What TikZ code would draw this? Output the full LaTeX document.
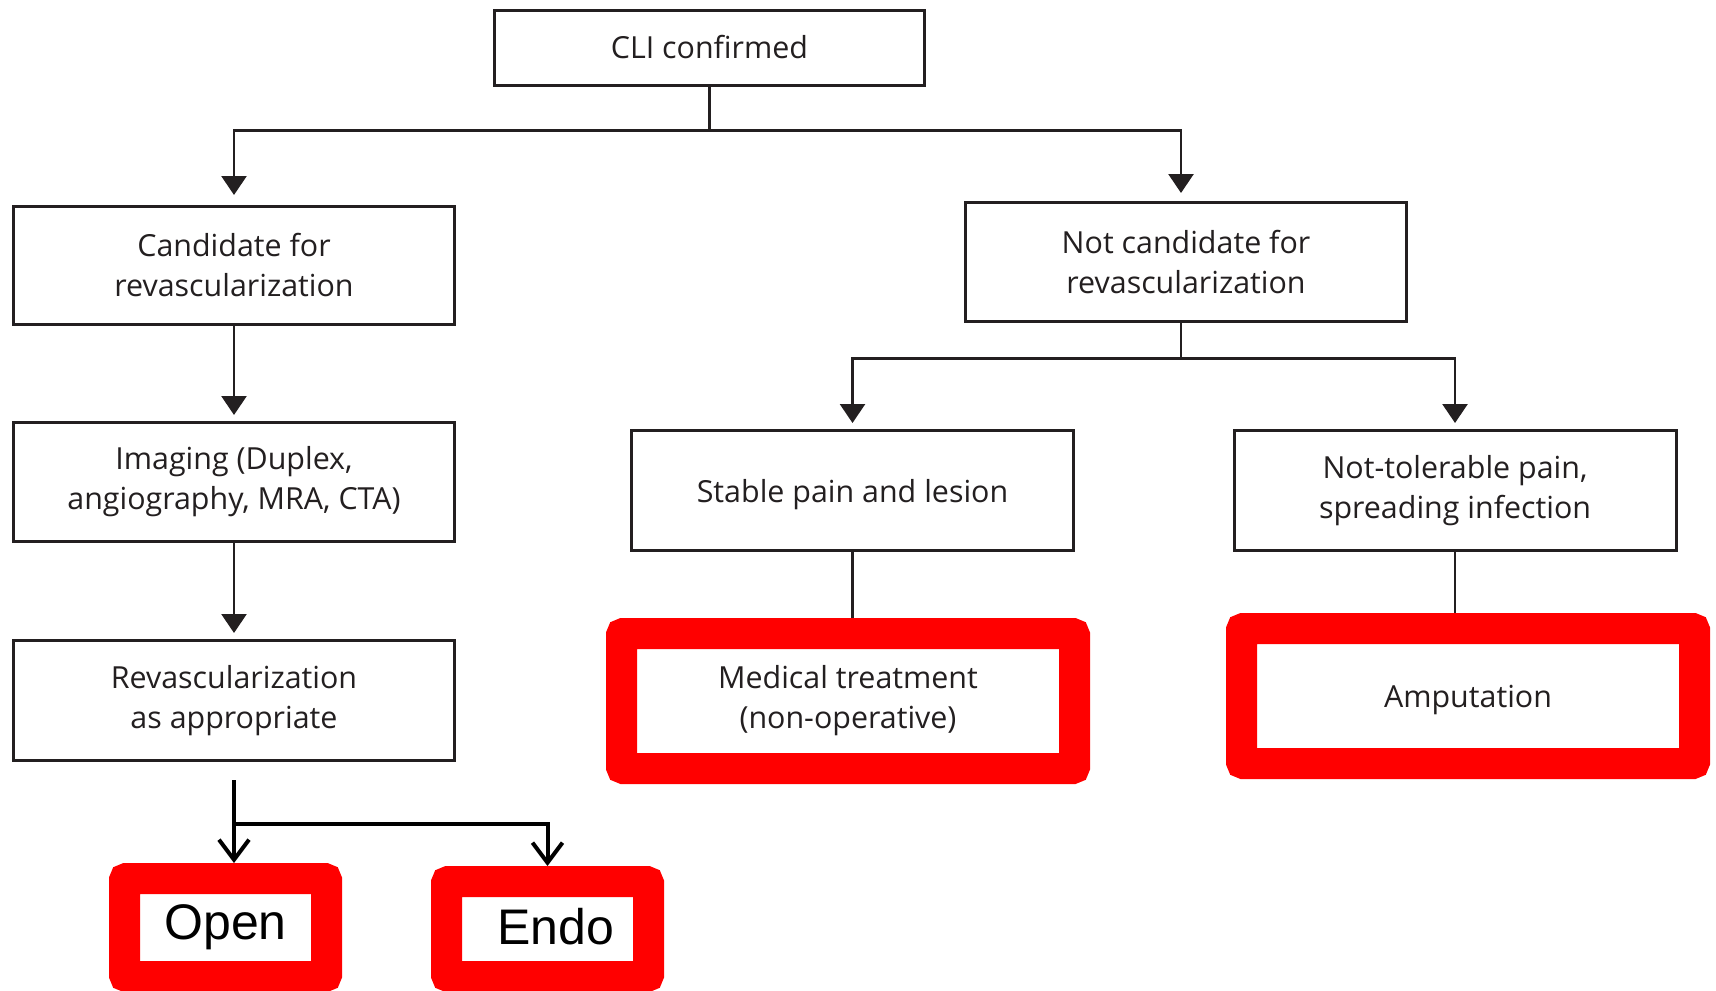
\documentclass[tikz,border=0pt]{standalone}
\usepackage{fontspec}
\setmainfont{Open Sans}
\newfontfamily\arialf{Liberation Sans}
\usetikzlibrary{arrows.meta,backgrounds}
\definecolor{ink}{HTML}{231F20}
\definecolor{hired}{HTML}{FF0000}
\tikzset{
  plainbox/.style={draw=ink, line width=1.5pt, fill=white, text=ink, align=center,
    inner sep=0pt, font=\fontsize{15.2pt}{20pt}\selectfont},
  redbox/.style={draw=hired, line width=15.5pt, rounded corners=1pt, fill=white, text=ink,
    align=center, inner sep=0pt, font=\fontsize{15.2pt}{20pt}\selectfont},
  bigred/.style={draw=hired, line width=15.5pt, rounded corners=1pt, fill=white, text=black,
    inner sep=0pt, font=\arialf\fontsize{25pt}{30pt}\selectfont},
  flowarrow/.style={draw=ink, line width=1.3pt, -{Triangle[width=12.5pt,length=9.5pt]}},
  flowline/.style={draw=ink, line width=1.3pt},
  bararrow/.style={draw=black, line width=2pt, -{Straight Barb[width=15pt,length=10pt]}}
}
\begin{document}
\begin{tikzpicture}[x=0.5pt,y=-0.5pt]
\useasboundingbox (0,0) rectangle (1716,990);
\node[plainbox, minimum width=215pt, minimum height=37.5pt] (cli) at (709.5,48) {\raisebox{1.5pt}{CLI confirmed}};
\node[plainbox, minimum width=220.5pt, minimum height=59pt] (cand) at (234,265.5) {Candidate for\\revascularization};
\node[plainbox, minimum width=220.5pt, minimum height=59.5pt] (img) at (234,482) {Imaging (Duplex,\\angiography, MRA, CTA)};
\node[plainbox, minimum width=220.5pt, minimum height=60pt] (rev) at (234,700.5) {Revascularization\\as appropriate};
\node[plainbox, minimum width=220.5pt, minimum height=59.5pt] (notc) at (1186,262) {Not candidate for\\revascularization};
\node[plainbox, minimum width=221pt, minimum height=60pt, text depth=0pt] (stable) at (852.5,490.5) {Stable pain and lesion};
\node[plainbox, minimum width=221pt, minimum height=60pt] (nottol) at (1455,490.5) {Not-tolerable pain,\\spreading infection};
\node[redbox, minimum width=226.5pt, minimum height=67.5pt] (med) at (848,701) {Medical treatment\\(non-operative)};
\node[redbox, minimum width=226.5pt, minimum height=67.5pt, text depth=0pt] (amp) at (1468,696) {Amputation};
\node[bigred, minimum width=101pt, minimum height=49pt] (open) at (225.5,927.5) {\raisebox{-1pt}{Open}};
\node[bigred, minimum width=101pt, minimum height=47.5pt] (endo) at (547.5,929) {\hspace*{8pt}\raisebox{3pt}{Endo}};
\begin{scope}[on background layer]
\draw[flowarrow, shorten >=5pt] (cli.south) -- ++(0,43.5) -| (cand.north);
\draw[flowarrow, shorten >=4pt] (cli.south) -- ++(0,43.5) -| ([xshift=-2.5pt]notc.north);
\draw[flowarrow, shorten >=3pt] (cand) -- (img);
\draw[flowarrow, shorten >=3pt] (img) -- (rev);
\draw[flowarrow, shorten >=3pt] ([xshift=-2.5pt]notc.south) -- ++(0,35.5) -| (stable.north);
\draw[flowarrow, shorten >=3pt] ([xshift=-2.5pt]notc.south) -- ++(0,35.5) -| (nottol.north);
\draw[flowline] (stable.south) -- (stable.south |- med.north);
\draw[flowline] (nottol.south) -- (nottol.south |- amp.north);
\draw[bararrow] ([yshift=-9pt]rev.south) -- (rev.south |- open.north);
\draw[bararrow] ([yshift=-9pt]rev.south) -- ++(0,44) -| (endo.north);
\end{scope}
\end{tikzpicture}
\end{document}
